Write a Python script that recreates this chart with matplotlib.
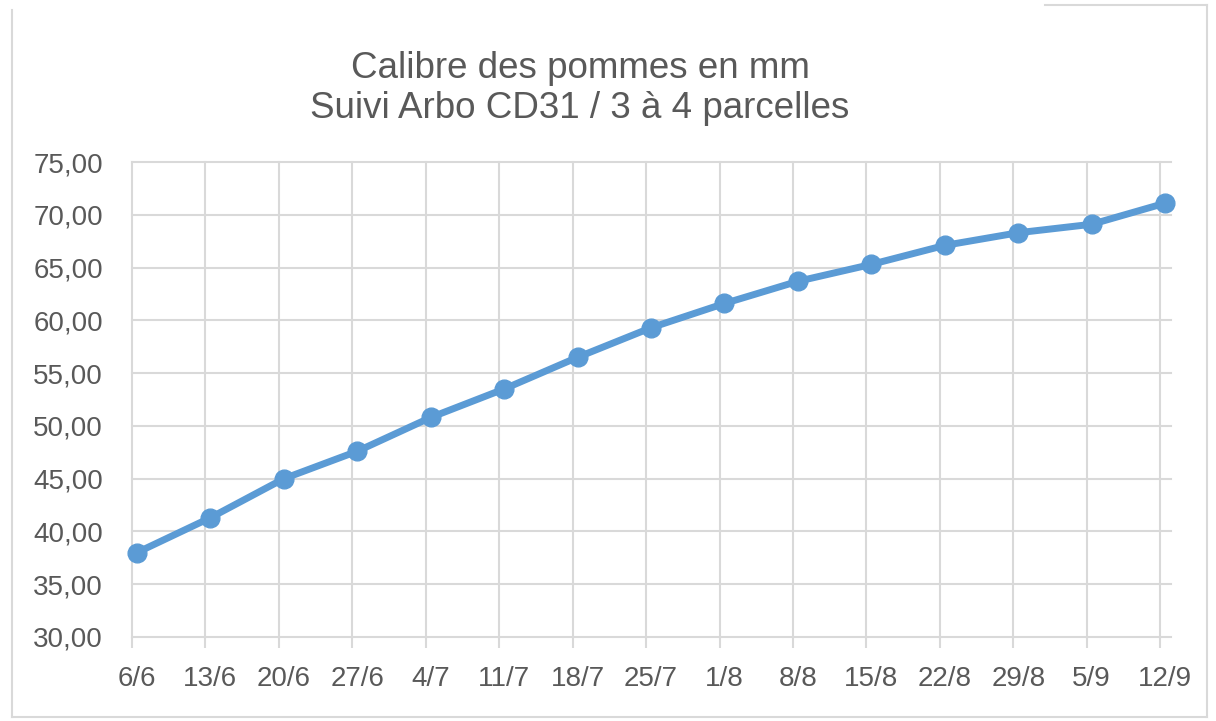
import matplotlib
matplotlib.use("Agg")
from matplotlib import pyplot as plt
from matplotlib.lines import Line2D

dates = ["6/6", "13/6", "20/6", "27/6", "4/7", "11/7", "18/7", "25/7",
         "1/8", "8/8", "15/8", "22/8", "29/8", "5/9", "12/9"]
calibre = [38.0, 41.3, 45.0, 47.6, 50.8, 53.5, 56.5, 59.3,
           61.6, 63.7, 65.3, 67.1, 68.3, 69.1, 71.1]
y_ticks = [30, 35, 40, 45, 50, 55, 60, 65, 70, 75]

W, H = 1216, 721
grid_col = "#D9D9D9"
text_col = "#595959"
blue = "#5B9BD5"

plt.rcParams["font.family"] = ["Liberation Sans", "DejaVu Sans"]

fig = plt.figure(figsize=(W / 100, H / 100), dpi=100)
ax = fig.add_axes([132 / W, 1 - 637 / H, (1171 - 132) / W, (637 - 162) / H])

x = list(range(len(dates)))
ax.plot(x, calibre, color=blue, lw=5, marker="o", ms=13.5,
        solid_capstyle="round", zorder=3, clip_on=False)

# grid lines sit a little left of the points, as in the picture
off = 0.068
ax.set_xlim(-off, len(dates) - 1 + 0.08)
ax.set_ylim(30, 75)
ax.set_xticks(x)
ax.set_xticklabels(dates)
ax.set_xticks([i - off for i in x], minor=True)
ax.set_yticks(y_ticks)
ax.set_yticklabels([f"{v:.2f}".replace(".", ",") for v in y_ticks])

ax.grid(True, which="minor", axis="x", color=grid_col, lw=1.5)
ax.grid(True, which="major", axis="y", color=grid_col, lw=1.5)
ax.tick_params(axis="x", which="major", length=0, pad=21, labelsize=20, labelcolor=text_col)
ax.tick_params(axis="x", which="minor", length=8, width=1.5, color=grid_col)
ax.tick_params(axis="y", length=0, pad=21, labelsize=20, labelcolor=text_col)
for s in ax.spines.values():
    s.set_visible(False)
for t in ax.yaxis.get_major_ticks() + ax.xaxis.get_minor_ticks():
    t.gridline.set_clip_on(False)

fig.text(580 / W, 1 - 68 / H, "Calibre des pommes en mm", ha="center", va="center",
         fontsize=26.5, color=text_col)
fig.text(580 / W, 1 - 109 / H, "Suivi Arbo CD31 / 3 à 4 parcelles", ha="center",
         va="center", fontsize=26.5, color=text_col)

# outer frame of the chart (top edge only partly visible)
def px_line(xs, ys):
    fig.add_artist(Line2D([v / W for v in xs], [1 - v / H for v in ys],
                          color=grid_col, lw=1.5, transform=fig.transFigure))

px_line([12, 12], [10, 717])
px_line([12, 1207], [717, 717])
px_line([1207, 1207], [5, 717])
px_line([1045, 1207], [5, 5])

fig.savefig("out.png", dpi=100)
